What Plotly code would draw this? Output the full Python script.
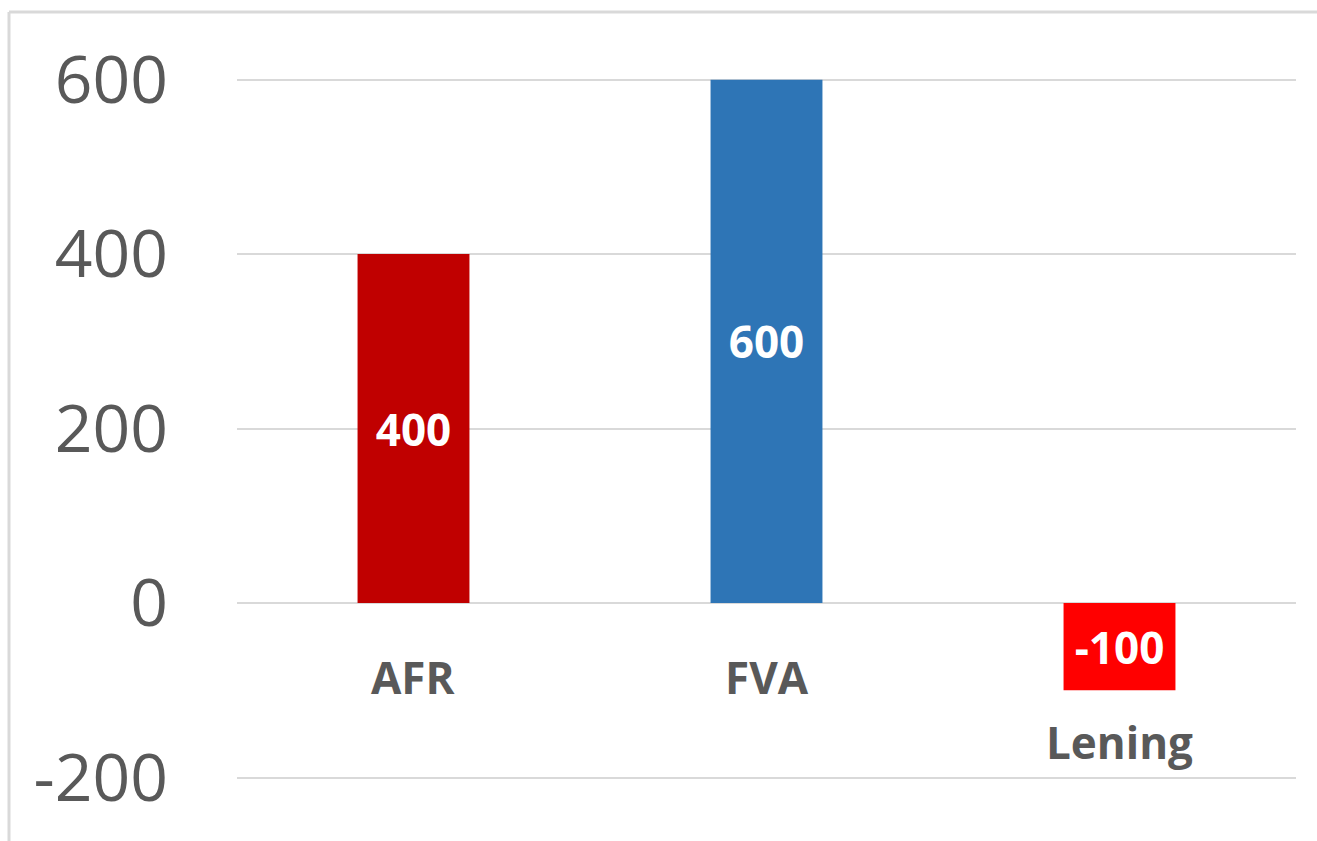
import plotly.graph_objects as go

categories = ["AFR", "FVA", "Lening"]
values = [400, 600, -100]
colors = ["#C00000", "#2E75B6", "#FF0000"]
tick_vals = [-200, 0, 200, 400, 600]
tick_text = ["-200", "0", "200", "400", "600"]

W, H = 1317, 841
L, R = 237, 21
y_range = [-272.8, 691.3]

fig = go.Figure()
fig.add_trace(go.Bar(
    x=categories, y=values,
    marker=dict(color=colors, line=dict(width=0)),
    text=[str(v) for v in values],
    textposition="inside", insidetextanchor="middle", textangle=0,
    textfont=dict(family="Open Sans", size=44, color="white", weight="bold"),
    hoverinfo="skip",
))

for c, v in zip(categories, values):
    fig.add_annotation(
        x=c, y=min(v, 0), xref="x", yref="y",
        text=f"<b>{c}</b>", showarrow=False,
        yanchor="middle", yshift=-74 if v >= 0 else -52,
        font=dict(family="Open Sans", size=44, color="#595959"),
    )

# outer chart frame: only the top and left edges are inside the picture
fx0 = (9 - L) / (W - L - R)
fy1 = (H - 12) / H
fig.add_shape(type="line", xref="paper", yref="paper",
              x0=fx0, x1=1.3, y0=fy1, y1=fy1,
              line=dict(color="#d9d9d9", width=3), layer="below")
fig.add_shape(type="line", xref="paper", yref="paper",
              x0=fx0, x1=fx0, y0=-0.3, y1=fy1,
              line=dict(color="#d9d9d9", width=3), layer="below")

fig.update_layout(
    width=W, height=H,
    margin=dict(l=L, r=R, t=0, b=0),
    paper_bgcolor="white", plot_bgcolor="white",
    bargap=0.683, showlegend=False,
    uniformtext=dict(minsize=44, mode="show"),
    font=dict(family="Open Sans", color="#595959"),
)
fig.update_xaxes(showticklabels=False, showgrid=False, zeroline=False,
                 showline=False, automargin=False)
fig.update_yaxes(range=y_range, tickvals=tick_vals, ticktext=tick_text,
                 showgrid=True, gridcolor="#d9d9d9", gridwidth=2,
                 zeroline=False, showline=False, ticks="",
                 ticklabelstandoff=68,
                 tickfont=dict(family="Open Sans", size=66, color="#595959"),
                 automargin=False)

fig.write_html(
    "out.html",
    config={"displayModeBar": False},
    post_script="document.body.style.margin='0';document.body.style.overflow='hidden';",
)
